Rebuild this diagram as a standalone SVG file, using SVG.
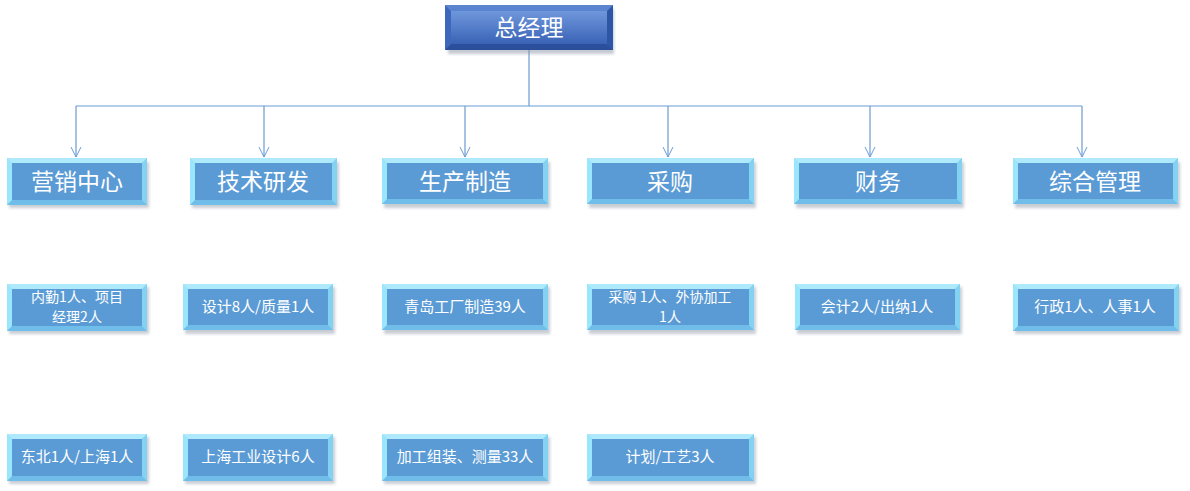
<svg xmlns="http://www.w3.org/2000/svg" width="1190" height="491" viewBox="0 0 1190 491">
<defs>
<filter id="sh" x="-10%" y="-20%" width="120%" height="160%"><feGaussianBlur stdDeviation="1.6"/></filter>
<linearGradient id="topg" x1="0" y1="0" x2="0" y2="1"><stop offset="0" stop-color="#6f97dc"/><stop offset="1" stop-color="#3a63b6"/></linearGradient>
<marker id="ar" markerWidth="12" markerHeight="12" refX="10" refY="6" orient="auto" markerUnits="userSpaceOnUse"><path d="M0,1 L10,6 L0,11" fill="none" stroke="#6b9bd2" stroke-width="1"/></marker>
</defs>
<style>
.shadow{fill:#9aa4b0;opacity:.55;filter:url(#sh)}
.frame{fill:#8fdcf6}
.bt{fill:#aeeafc}
.bl{fill:#9ae6fd}
.br{fill:#84d2f1}
.bb{fill:#70bde9}
.in{fill:#5b9bd5}
.t2{font-family:"Noto Sans CJK SC","Microsoft YaHei",sans-serif;font-size:23px;fill:#fff;text-anchor:middle}
.t3{font-family:"Noto Sans CJK SC","Microsoft YaHei",sans-serif;font-size:15px;fill:#fff;text-anchor:middle}
.t4{font-family:"Noto Sans CJK SC","Microsoft YaHei",sans-serif;font-size:14px;fill:#fff;text-anchor:middle}
.t1{font-family:"Noto Sans CJK SC","Microsoft YaHei",sans-serif;font-size:23px;fill:#fff;text-anchor:middle}
.ln{fill:none;stroke:#6b9bd2;stroke-width:1.2}
</style>
<rect width="1190" height="491" fill="#fff"/>

<g id="connectors">
<path class="ln" d="M529,50 V106"/>
<path class="ln" d="M76,106 H1082"/>
<path class="ln" d="M76,106 V157" marker-end="url(#ar)"/>
<path class="ln" d="M264,106 V157" marker-end="url(#ar)"/>
<path class="ln" d="M465,106 V157" marker-end="url(#ar)"/>
<path class="ln" d="M668,106 V157" marker-end="url(#ar)"/>
<path class="ln" d="M870,106 V157" marker-end="url(#ar)"/>
<path class="ln" d="M1082,106 V157" marker-end="url(#ar)"/>
</g>

<g id="n_top">
<rect x="448" y="9" width="166" height="45" fill="#8a95a6" opacity=".5" filter="url(#sh)"/>
<rect x="445" y="5" width="168" height="45" fill="url(#topg)"/>
<polygon points="445,5 613,5 607,11 451,11" fill="#5a84d0"/>
<polygon points="445,5 451,11 451,44 445,50" fill="#3e68bb"/>
<polygon points="613,5 607,11 607,44 613,50" fill="#2f56a6"/>
<polygon points="445,50 451,44 607,44 613,50" fill="#2c4f9c"/>
<rect x="451" y="11" width="156" height="33" fill="url(#topg)"/>
<text class="t1" x="529" y="36">总经理</text>
</g>

<g id="n_yx">
<rect class="shadow" x="9" y="162" width="140" height="46"/>
<rect class="frame" x="7" y="158" width="140" height="47"/>
<polygon class="bt" points="7,158 147,158 142,163 12,163"/><polygon class="bl" points="7,158 12,163 12,200 7,205"/><polygon class="br" points="147,158 142,163 142,200 147,205"/><polygon class="bb" points="7,205 12,200 142,200 147,205"/>
<rect class="in" x="12" y="163" width="130" height="37"/>
<text class="t2" x="77" y="190">营销中心</text>
</g>
<g id="n_js">
<rect class="shadow" x="192" y="162" width="147" height="46"/>
<rect class="frame" x="190" y="158" width="147" height="47"/>
<polygon class="bt" points="190,158 337,158 332,163 195,163"/><polygon class="bl" points="190,158 195,163 195,200 190,205"/><polygon class="br" points="337,158 332,163 332,200 337,205"/><polygon class="bb" points="190,205 195,200 332,200 337,205"/>
<rect class="in" x="195" y="163" width="137" height="37"/>
<text class="t2" x="263" y="190">技术研发</text>
</g>
<g id="n_sc">
<rect class="shadow" x="384" y="162" width="166" height="46"/>
<rect class="frame" x="382" y="158" width="166" height="46"/>
<polygon class="bt" points="382,158 548,158 543,163 387,163"/><polygon class="bl" points="382,158 387,163 387,199 382,204"/><polygon class="br" points="548,158 543,163 543,199 548,204"/><polygon class="bb" points="382,204 387,199 543,199 548,204"/>
<rect class="in" x="387" y="163" width="156" height="36"/>
<text class="t2" x="465" y="190">生产制造</text>
</g>
<g id="n_cg">
<rect class="shadow" x="589" y="162" width="167" height="46"/>
<rect class="frame" x="587" y="158" width="167" height="46"/>
<polygon class="bt" points="587,158 754,158 749,163 592,163"/><polygon class="bl" points="587,158 592,163 592,199 587,204"/><polygon class="br" points="754,158 749,163 749,199 754,204"/><polygon class="bb" points="587,204 592,199 749,199 754,204"/>
<rect class="in" x="592" y="163" width="157" height="36"/>
<text class="t2" x="670" y="190">采购</text>
</g>
<g id="n_cw">
<rect class="shadow" x="796" y="162" width="168" height="46"/>
<rect class="frame" x="794" y="158" width="168" height="46"/>
<polygon class="bt" points="794,158 962,158 957,163 799,163"/><polygon class="bl" points="794,158 799,163 799,199 794,204"/><polygon class="br" points="962,158 957,163 957,199 962,204"/><polygon class="bb" points="794,204 799,199 957,199 962,204"/>
<rect class="in" x="799" y="163" width="158" height="36"/>
<text class="t2" x="878" y="190">财务</text>
</g>
<g id="n_zh">
<rect class="shadow" x="1015" y="162" width="165" height="46"/>
<rect class="frame" x="1013" y="158" width="165" height="46"/>
<polygon class="bt" points="1013,158 1178,158 1173,163 1018,163"/><polygon class="bl" points="1013,158 1018,163 1018,199 1013,204"/><polygon class="br" points="1178,158 1173,163 1173,199 1178,204"/><polygon class="bb" points="1013,204 1018,199 1173,199 1178,204"/>
<rect class="in" x="1018" y="163" width="155" height="36"/>
<text class="t2" x="1095" y="190">综合管理</text>
</g>

<g id="n_nq">
<rect class="shadow" x="9" y="287" width="140" height="47"/>
<rect class="frame" x="7" y="284" width="140" height="47"/>
<polygon class="bt" points="7,284 147,284 142,289 12,289"/><polygon class="bl" points="7,284 12,289 12,326 7,331"/><polygon class="br" points="147,284 142,289 142,326 147,331"/><polygon class="bb" points="7,331 12,326 142,326 147,331"/>
<rect class="in" x="12" y="289" width="130" height="37"/>
<text class="t4" x="77" y="302">内勤1人、项目</text>
<text class="t4" x="77" y="322">经理2人</text>
</g>
<g id="n_sj">
<rect class="shadow" x="185" y="287" width="150" height="47"/>
<rect class="frame" x="183" y="284" width="150" height="46"/>
<polygon class="bt" points="183,284 333,284 328,289 188,289"/><polygon class="bl" points="183,284 188,289 188,325 183,330"/><polygon class="br" points="333,284 328,289 328,325 333,330"/><polygon class="bb" points="183,330 188,325 328,325 333,330"/>
<rect class="in" x="188" y="289" width="140" height="36"/>
<text class="t3" x="258" y="312">设计8人/质量1人</text>
</g>
<g id="n_qd">
<rect class="shadow" x="384" y="287" width="166" height="47"/>
<rect class="frame" x="382" y="284" width="166" height="46"/>
<polygon class="bt" points="382,284 548,284 543,289 387,289"/><polygon class="bl" points="382,284 387,289 387,325 382,330"/><polygon class="br" points="548,284 543,289 543,325 548,330"/><polygon class="bb" points="382,330 387,325 543,325 548,330"/>
<rect class="in" x="387" y="289" width="156" height="36"/>
<text class="t3" x="465" y="312">青岛工厂制造39人</text>
</g>
<g id="n_cg1">
<rect class="shadow" x="589" y="287" width="167" height="47"/>
<rect class="frame" x="587" y="284" width="167" height="46"/>
<polygon class="bt" points="587,284 754,284 749,289 592,289"/><polygon class="bl" points="587,284 592,289 592,325 587,330"/><polygon class="br" points="754,284 749,289 749,325 754,330"/><polygon class="bb" points="587,330 592,325 749,325 754,330"/>
<rect class="in" x="592" y="289" width="157" height="36"/>
<text class="t4" x="670" y="302">采购 1人、外协加工</text>
<text class="t4" x="670" y="322">1人</text>
</g>
<g id="n_kj">
<rect class="shadow" x="797" y="287" width="165" height="47"/>
<rect class="frame" x="795" y="284" width="165" height="46"/>
<polygon class="bt" points="795,284 960,284 955,289 800,289"/><polygon class="bl" points="795,284 800,289 800,325 795,330"/><polygon class="br" points="960,284 955,289 955,325 960,330"/><polygon class="bb" points="795,330 800,325 955,325 960,330"/>
<rect class="in" x="800" y="289" width="155" height="36"/>
<text class="t3" x="877" y="312">会计2人/出纳1人</text>
</g>
<g id="n_xz">
<rect class="shadow" x="1015" y="287" width="166" height="47"/>
<rect class="frame" x="1013" y="284" width="166" height="47"/>
<polygon class="bt" points="1013,284 1179,284 1174,289 1018,289"/><polygon class="bl" points="1013,284 1018,289 1018,326 1013,331"/><polygon class="br" points="1179,284 1174,289 1174,326 1179,331"/><polygon class="bb" points="1013,331 1018,326 1174,326 1179,331"/>
<rect class="in" x="1018" y="289" width="156" height="37"/>
<text class="t3" x="1095" y="312">行政1人、人事1人</text>
</g>

<g id="n_db">
<rect class="shadow" x="9" y="437" width="140" height="47"/>
<rect class="frame" x="7" y="434" width="140" height="47"/>
<polygon class="bt" points="7,434 147,434 142,439 12,439"/><polygon class="bl" points="7,434 12,439 12,476 7,481"/><polygon class="br" points="147,434 142,439 142,476 147,481"/><polygon class="bb" points="7,481 12,476 142,476 147,481"/>
<rect class="in" x="12" y="439" width="130" height="37"/>
<text class="t3" x="77" y="462">东北1人/上海1人</text>
</g>
<g id="n_shgy">
<rect class="shadow" x="185" y="437" width="150" height="47"/>
<rect class="frame" x="183" y="434" width="150" height="47"/>
<polygon class="bt" points="183,434 333,434 328,439 188,439"/><polygon class="bl" points="183,434 188,439 188,476 183,481"/><polygon class="br" points="333,434 328,439 328,476 333,481"/><polygon class="bb" points="183,481 188,476 328,476 333,481"/>
<rect class="in" x="188" y="439" width="140" height="37"/>
<text class="t3" x="258" y="462">上海工业设计6人</text>
</g>
<g id="n_jg">
<rect class="shadow" x="384" y="437" width="166" height="47"/>
<rect class="frame" x="382" y="434" width="166" height="47"/>
<polygon class="bt" points="382,434 548,434 543,439 387,439"/><polygon class="bl" points="382,434 387,439 387,476 382,481"/><polygon class="br" points="548,434 543,439 543,476 548,481"/><polygon class="bb" points="382,481 387,476 543,476 548,481"/>
<rect class="in" x="387" y="439" width="156" height="37"/>
<text class="t3" x="465" y="462">加工组装、测量33人</text>
</g>
<g id="n_jh">
<rect class="shadow" x="589" y="437" width="167" height="47"/>
<rect class="frame" x="587" y="434" width="167" height="47"/>
<polygon class="bt" points="587,434 754,434 749,439 592,439"/><polygon class="bl" points="587,434 592,439 592,476 587,481"/><polygon class="br" points="754,434 749,439 749,476 754,481"/><polygon class="bb" points="587,481 592,476 749,476 754,481"/>
<rect class="in" x="592" y="439" width="157" height="37"/>
<text class="t3" x="670" y="462">计划/工艺3人</text>
</g>
</svg>
